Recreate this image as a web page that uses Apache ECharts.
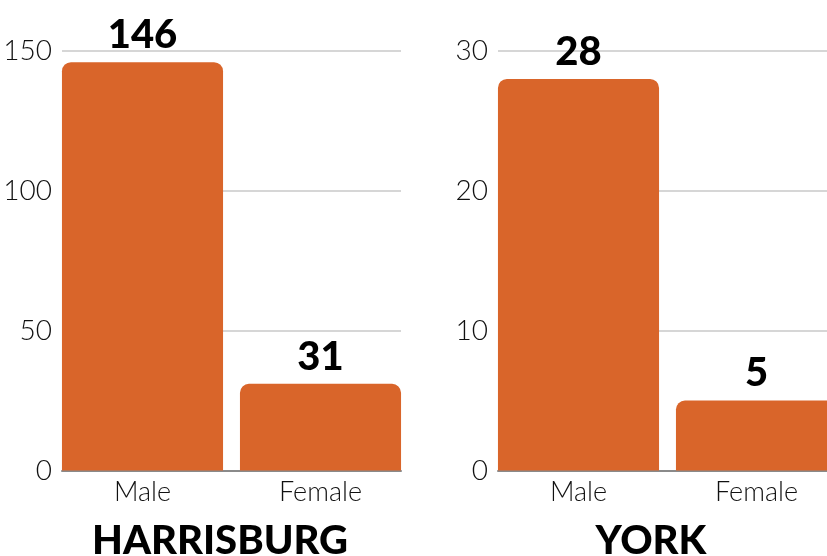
<!DOCTYPE html>
<html>
<head>
<meta charset="utf-8">
<script src="https://cdn.jsdelivr.net/npm/echarts@6/dist/echarts.min.js"></script>
<style>
  html, body { margin: 0; padding: 0; background: #fff; }
  #chart { width: 827px; height: 556px; }
</style>
</head>
<body>
<div id="chart"></div>
<script>
  // Data
  const categories = ['Male', 'Female'];
  const harrisburg = [146, 31];
  const york = [28, 5];
  const cities = ['HARRISBURG', 'YORK'];
  const harrisburgTicks = { min: 0, max: 150, interval: 50 };
  const yorkTicks = { min: 0, max: 30, interval: 10 };

  const THEME = {
    bar: '#D9652A',
    grid: '#C8C8C8',
    axis: '#8A8A8A',
    text: '#111111',
    font: 'Lato, "Open Sans", sans-serif',
  };

  const chart = echarts.init(document.getElementById('chart'));

  // Two grids per panel: one for axis lines / split lines, one (slightly wider) for bars
  const gridTop = 51;
  const gridBottom = 85.5;
  const panels = [
    { left: 62, width: 339, ticks: harrisburgTicks, data: harrisburg },
    { left: 498, width: 339, ticks: yorkTicks, data: york },
  ];
  const pad = 8.5;

  const grid = [];
  const xAxis = [];
  const yAxis = [];
  const series = [];

  panels.forEach((p) => {
    const gA = grid.length;
    grid.push({ left: p.left, width: p.width, top: gridTop, bottom: gridBottom, outerBoundsMode: 'none' });
    const gB = grid.length;
    grid.push({ left: p.left - pad, width: p.width + pad * 2, top: gridTop, bottom: gridBottom, outerBoundsMode: 'none' });

    xAxis.push({
      gridIndex: gA,
      type: 'category',
      data: categories,
      axisLine: { lineStyle: { color: THEME.axis, width: 2 } },
      axisTick: { show: false },
      axisLabel: { show: false },
    });
    xAxis.push({
      gridIndex: gB,
      type: 'category',
      data: categories,
      axisLine: { show: false },
      axisTick: { show: false },
      axisLabel: {
        color: THEME.text,
        fontFamily: THEME.font,
        fontWeight: 300,
        fontSize: 27,
        margin: 8,
      },
    });
    yAxis.push({
      gridIndex: gA,
      type: 'value',
      min: p.ticks.min,
      max: p.ticks.max,
      interval: p.ticks.interval,
      axisLine: { show: false },
      axisTick: { show: false },
      axisLabel: {
        color: THEME.text,
        fontFamily: THEME.font,
        fontWeight: 300,
        fontSize: 28,
        margin: 10,
      },
      splitLine: { lineStyle: { color: THEME.grid, width: 1.5 } },
    });
    yAxis.push({
      gridIndex: gB,
      type: 'value',
      min: p.ticks.min,
      max: p.ticks.max,
      show: false,
      splitLine: { show: false },
    });

    series.push({
      type: 'bar',
      xAxisIndex: xAxis.length - 1,
      yAxisIndex: yAxis.length - 1,
      data: p.data,
      barCategoryGap: '9.5%',
      itemStyle: { color: THEME.bar, borderRadius: [9, 9, 0, 0] },
      label: {
        show: true,
        position: 'top',
        distance: 7,
        color: '#000',
        fontFamily: THEME.font,
        fontWeight: 900,
        fontSize: 40,
      },
    });
  });

  const option = {
    backgroundColor: '#fff',
    animation: false,
    grid: grid,
    xAxis: xAxis,
    yAxis: yAxis,
    series: series,
    graphic: [
      {
        type: 'text',
        x: 220,
        y: 521,
        style: {
          text: cities[0],
          fill: '#000',
          font: '900 40px ' + THEME.font,
          textAlign: 'center',
        },
      },
      {
        type: 'text',
        x: 651,
        y: 521,
        style: {
          text: cities[1],
          fill: '#000',
          font: '900 40px ' + THEME.font,
          textAlign: 'center',
        },
      },
    ],
  };

  chart.setOption(option);
</script>
</body>
</html>
